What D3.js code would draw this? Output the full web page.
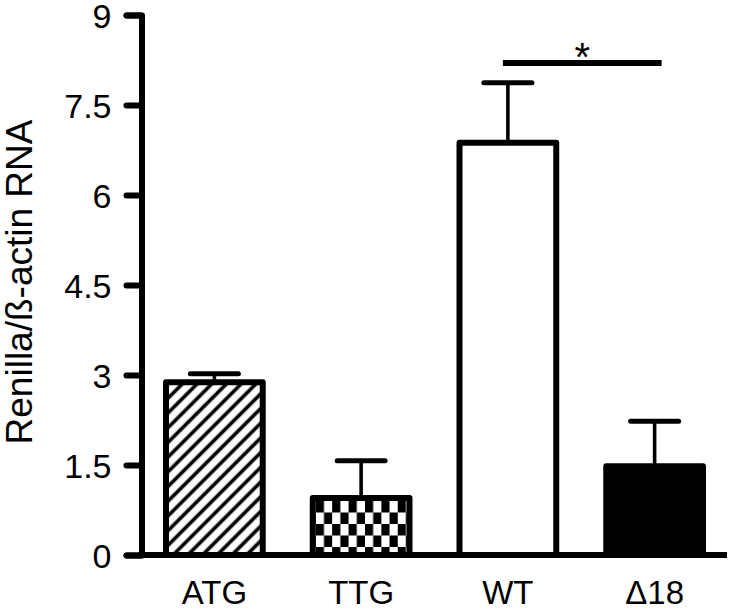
<!DOCTYPE html>
<html>
<head>
<meta charset="utf-8">
<script src="https://cdn.jsdelivr.net/npm/d3@7"></script>
<style>
  html, body { margin: 0; padding: 0; background: #fff; }
  svg { display: block; font-family: "Liberation Sans", Arial, sans-serif; }
</style>
</head>
<body>
<svg id="chart" width="732" height="610"></svg>
<script>
// ---- data ----
const categories = ["ATG", "TTG", "WT", "\u039418"];
const means = [2.88, 0.95, 6.87, 1.48];
const errors = [0.14, 0.62, 1.00, 0.75];
const fills = ["url(#hatch)", "url(#checker)", "#ffffff", "#000000"];
const yTicks = [0, 1.5, 3, 4.5, 6, 7.5, 9];
const yTickLabels = ["0", "1.5", "3", "4.5", "6", "7.5", "9"];
const yTitle = "Renilla/\u00DF-actin RNA";
const sigPair = ["WT", "\u039418"];
const sigLevel = 8.2;
const sigLabel = "*";

// ---- layout ----
const svg = d3.select("#chart");
const y = d3.scaleLinear().domain([0, 9]).range([555, 15]);
const x = d3.scaleBand().domain(categories).range([141, 728])
  .paddingInner(0.3).paddingOuter(0.15);
const axisX = 141.5;
const bw = x.bandwidth();
const sw = 6;

// ---- patterns ----
const defs = svg.append("defs");
const hatch = defs.append("pattern").attr("id", "hatch")
  .attr("patternUnits", "userSpaceOnUse")
  .attr("width", 10.4).attr("height", 10.4)
  .attr("patternTransform", "rotate(45)");
hatch.append("rect").attr("width", 10.4).attr("height", 10.4).attr("fill", "#fff");
hatch.append("line").attr("x1", 5.2).attr("x2", 5.2).attr("y1", -1).attr("y2", 12)
  .attr("stroke", "#000").attr("stroke-width", 3.6);

const cw = 8.2, ch = 11.5;
const checker = defs.append("pattern").attr("id", "checker")
  .attr("patternUnits", "userSpaceOnUse")
  .attr("x", x("TTG") + sw).attr("y", y(means[1]) + sw / 2)
  .attr("width", cw * 2).attr("height", ch * 2);
checker.append("rect").attr("width", cw * 2).attr("height", ch * 2).attr("fill", "#fff");
checker.append("rect").attr("x", 0).attr("y", 0).attr("width", cw).attr("height", ch).attr("fill", "#000");
checker.append("rect").attr("x", cw).attr("y", ch).attr("width", cw).attr("height", ch).attr("fill", "#000");

// ---- bars ----
const data = categories.map((c, i) => ({ c, v: means[i], e: errors[i], f: fills[i] }));

// error bars
const eg = svg.append("g");
eg.selectAll("line.v").data(data).join("line")
  .attr("x1", d => x(d.c) + bw / 2).attr("x2", d => x(d.c) + bw / 2)
  .attr("y1", d => y(d.v)).attr("y2", d => y(d.v + d.e))
  .attr("stroke", "#000").attr("stroke-width", 3.6);
eg.selectAll("line.cap").data(data).join("line")
  .attr("x1", d => x(d.c) + bw / 2 - 24).attr("x2", d => x(d.c) + bw / 2 + 24)
  .attr("y1", d => y(d.v + d.e)).attr("y2", d => y(d.v + d.e))
  .attr("stroke", "#000").attr("stroke-width", 5).attr("stroke-linecap", "round");

svg.append("g").selectAll("rect").data(data).join("rect")
  .attr("x", d => x(d.c) + sw / 2)
  .attr("width", bw - sw)
  .attr("y", d => y(d.v))
  .attr("height", d => y(0) - y(d.v))
  .attr("fill", d => d.f)
  .attr("stroke", "#000").attr("stroke-width", sw)
  .attr("stroke-linejoin", "round");

// ---- axes ----
const yAxis = d3.axisLeft(y).tickValues(yTicks)
  .tickFormat((d, i) => yTickLabels[i])
  .tickSizeInner(15).tickSizeOuter(15).tickPadding(15);
const ga = svg.append("g").attr("transform", `translate(${axisX},0)`).call(yAxis);
ga.select(".domain").attr("stroke-width", sw).attr("stroke-linejoin", "round")
  .attr("stroke-linecap", "round");
ga.selectAll(".tick line").attr("stroke-width", sw).attr("stroke-linecap", "round");
ga.selectAll(".tick text").attr("font-size", 34).attr("fill", "#000")
  .attr("dy", "0.37em")
  .attr("font-family", "'Liberation Sans', Arial, sans-serif");

// baseline
svg.append("line")
  .attr("x1", axisX - 3).attr("x2", x.range()[1] - 1)
  .attr("y1", y(0)).attr("y2", y(0))
  .attr("stroke", "#000").attr("stroke-width", sw);

// category labels
svg.append("g").selectAll("text").data(categories).join("text")
  .attr("x", d => x(d) + bw / 2).attr("y", 604)
  .attr("text-anchor", "middle").attr("font-size", 33).attr("fill", "#000")
  .text(d => d);

// y title
svg.append("text")
  .attr("transform", `translate(32, 282) rotate(-90)`)
  .attr("text-anchor", "middle").attr("font-size", 37).attr("fill", "#000")
  .text(yTitle);

// significance
const sx1 = x(sigPair[0]) + bw / 2 - 5;
const sx2 = x(sigPair[1]) + bw / 2 + 7;
svg.append("line")
  .attr("x1", sx1).attr("x2", sx2)
  .attr("y1", y(sigLevel)).attr("y2", y(sigLevel))
  .attr("stroke", "#000").attr("stroke-width", sw);
svg.append("text")
  .attr("x", (sx1 + sx2) / 2).attr("y", y(sigLevel) + 8)
  .attr("text-anchor", "middle").attr("font-size", 40).attr("fill", "#000")
  .text(sigLabel);
</script>
</body>
</html>
